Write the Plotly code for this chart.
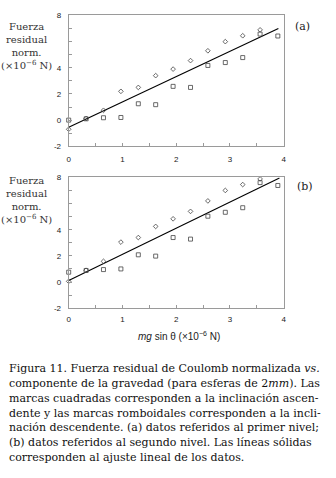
import plotly.graph_objects as go

# ---- data ----
x_desc = [0, 0.324, 0.647, 0.971, 1.295, 1.618, 1.942, 2.266, 2.589, 2.913, 3.237, 3.560]
x_asc = [0, 0.324, 0.647, 0.971, 1.295, 1.618, 1.942, 2.266, 2.589, 2.913, 3.237, 3.560, 3.89]

a_desc = [-0.7, 0.12, 0.75, 2.2, 2.5, 3.4, 3.9, 4.55, 5.3, 6.0, 6.45, 6.9]
a_asc = [0.0, 0.1, 0.18, 0.2, 1.25, 1.18, 2.58, 2.5, 4.18, 4.4, 4.78, 6.58, 6.43]
a_fit_x = [0, 3.9]
a_fit_y = [-0.55, 7.0]

b_desc = [0.05, 0.9, 1.58, 3.05, 3.4, 4.25, 4.83, 5.4, 6.2, 7.0, 7.45, 7.88]
b_asc = [0.75, 0.88, 0.95, 1.0, 2.08, 1.98, 3.4, 3.28, 5.03, 5.33, 5.68, 7.6, 7.38]
b_fit_x = [0, 3.92]
b_fit_y = [0.12, 7.95]

y_tickvals = [-2, -1, 0, 1, 2, 3, 4, 5, 6, 7, 8]
y_ticktext = ["-2", " ", "0", " ", "2", " ", "4", " ", " ", " ", "8"]
x_tickvals = [0, 0.5, 1, 1.5, 2, 2.5, 3, 3.5, 4]
x_ticktext = ["0", " ", "1", " ", "2", " ", "3", " ", "4"]

caption_lines = [
    "Figura 11. Fuerza residual de Coulomb normalizada <i>vs.</i>",
    "componente de la gravedad (para esferas de 2<i>mm</i>). Las",
    "marcas cuadradas corresponden a la inclinación ascen-",
    "dente y las marcas romboidales corresponden a la incli-",
    "nación descendente. (a) datos referidos al primer nivel;",
    "(b) datos referidos al segundo nivel. Las líneas sólidas",
    "corresponden al ajuste lineal de los datos.",
]

W, H = 336, 478
fig = go.Figure()

def add_panel(desc, asc, fx, fy, xa, ya):
    fig.add_trace(go.Scatter(x=fx, y=fy, mode="lines", line=dict(color="black", width=1.1),
                             xaxis=xa, yaxis=ya, showlegend=False, hoverinfo="skip"))
    fig.add_trace(go.Scatter(x=x_asc, y=asc, mode="markers", cliponaxis=False,
                             marker=dict(symbol="square-open", size=4, color="#444",
                                         line=dict(width=0.8, color="#444")),
                             xaxis=xa, yaxis=ya, showlegend=False))
    fig.add_trace(go.Scatter(x=x_desc, y=desc, mode="markers", cliponaxis=False,
                             marker=dict(symbol="diamond-open", size=3.6, color="#444",
                                         line=dict(width=0.8, color="#444")),
                             xaxis=xa, yaxis=ya, showlegend=False))

add_panel(a_desc, a_asc, a_fit_x, a_fit_y, "x", "y")
add_panel(b_desc, b_asc, b_fit_x, b_fit_y, "x2", "y2")

xdom = [67.7 / W, 286 / W]
def pyy(p):
    return 1 - p / H

axis_common = dict(showgrid=False, zeroline=False, showline=True, mirror=True,
                   linecolor="#9a9a9a", linewidth=1, ticks="inside", ticklen=3,
                   tickcolor="#9a9a9a", tickfont=dict(family="Liberation Sans", size=8, color="#222"))

fig.update_layout(
    width=W, height=H, margin=dict(l=0, r=0, t=0, b=0),
    paper_bgcolor="white", plot_bgcolor="white",
    xaxis=dict(domain=xdom, range=[0, 4], anchor="y", tickvals=x_tickvals, ticktext=x_ticktext,
               ticklabelstandoff=5, **axis_common),
    yaxis=dict(domain=[pyy(145), pyy(11.7)], range=[-2, 8], anchor="x", tickvals=y_tickvals, ticktext=y_ticktext,
               ticklabelstandoff=5, **axis_common),
    xaxis2=dict(domain=xdom, range=[0, 4], anchor="y2", tickvals=x_tickvals, ticktext=x_ticktext,
                ticklabelstandoff=3, **axis_common),
    yaxis2=dict(domain=[pyy(310), pyy(176.7)], range=[-2, 8], anchor="x2", tickvals=y_tickvals, ticktext=y_ticktext,
                ticklabelstandoff=5, **axis_common),
)

ann = []
serif = "DejaVu Serif"
ytitle = "Fuerza<br>residual<br>norm.<br>(×10<sup>−6</sup> N)"
ann.append(dict(x=25 / W, y=pyy(43), xref="paper", yref="paper", text=ytitle, showarrow=False,
                font=dict(family=serif, size=10, color="#333"), align="center", xanchor="center", yanchor="middle"))
ann.append(dict(x=25 / W, y=pyy(200), xref="paper", yref="paper", text=ytitle, showarrow=False,
                font=dict(family=serif, size=10, color="#333"), align="center", xanchor="center", yanchor="middle"))
ann.append(dict(x=305 / W, y=pyy(23), xref="paper", yref="paper", text="(a)", showarrow=False,
                font=dict(family=serif, size=11, color="#222"), xanchor="center", yanchor="middle"))
ann.append(dict(x=308 / W, y=pyy(186), xref="paper", yref="paper", text="(b)", showarrow=False,
                font=dict(family=serif, size=11, color="#222"), xanchor="center", yanchor="middle"))
ann.append(dict(x=180 / W, y=pyy(338), xref="paper", yref="paper",
                text="<i>mg</i> sin θ (×10<sup>−6</sup> N)", showarrow=False,
                font=dict(family="Liberation Sans", size=10, color="#222"), xanchor="center", yanchor="middle"))
for i, line in enumerate(caption_lines):
    ann.append(dict(x=5 / W, y=pyy(372 + 15 * i), xref="paper", yref="paper", text=line, showarrow=False,
                    font=dict(family=serif, size=11, color="#111"), xanchor="left", yanchor="middle"))
fig.update_layout(annotations=ann)

fig.write_html("out.html", config={"displayModeBar": False},
               post_script="document.body.style.margin='0';document.body.style.overflow='hidden';")
